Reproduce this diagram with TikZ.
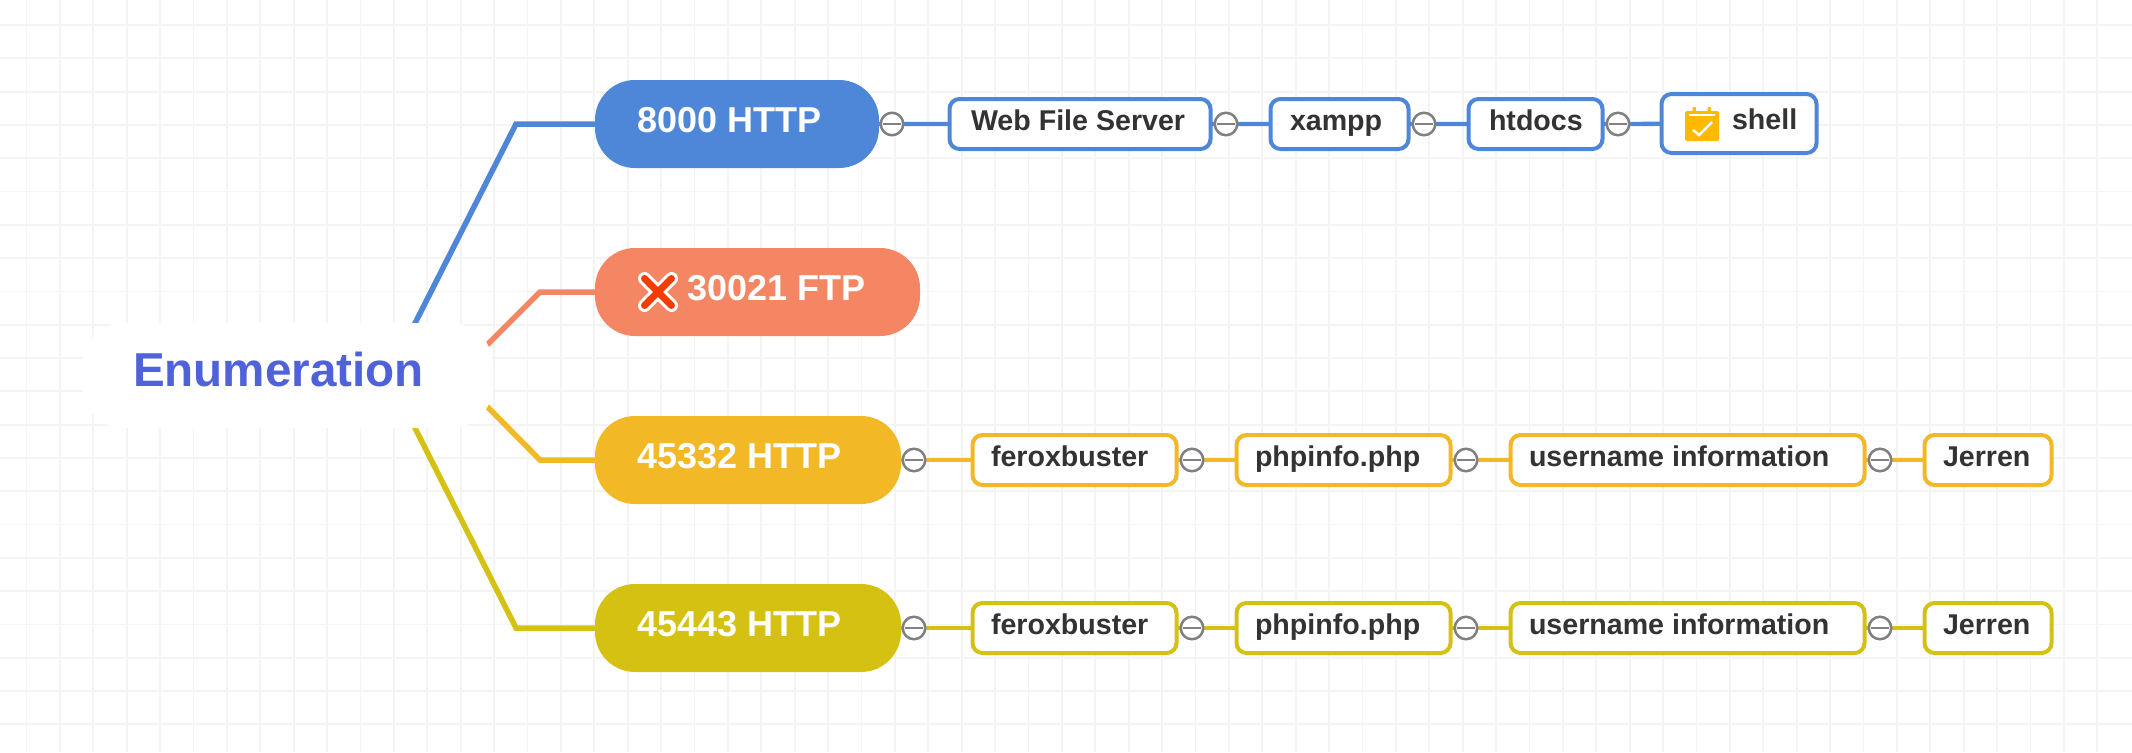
\documentclass[tikz,border=0pt]{standalone}
\usepackage{fontspec}
\setmainfont{Liberation Sans}
\usetikzlibrary{calc}
\definecolor{blueC}{HTML}{4E87D7}
\definecolor{orangeC}{HTML}{F58663}
\definecolor{amberC}{HTML}{F3B826}
\definecolor{oliveC}{HTML}{D4C111}
\definecolor{inkC}{HTML}{333333}
\definecolor{rootC}{HTML}{4F62DA}
\definecolor{gridC}{HTML}{F4F4F4}
\definecolor{markC}{HTML}{808080}
\definecolor{crossC}{HTML}{F23C00}
\definecolor{calC}{HTML}{FFB900}
\pgfdeclarelayer{gridlayer}
\pgfdeclarelayer{connlayer}
\pgfsetlayers{gridlayer,connlayer,main}
\newcommand{\lab}[3]{\makebox[#1pt][l]{\hspace*{#2pt}#3}}
\tikzset{
  pill/.style={fill=#1,rounded corners=40pt,anchor=west,inner sep=0pt,outer sep=0pt,minimum height=88pt,
    text=white,text height=26pt,text depth=10pt,font=\fontsize{36}{36}\selectfont\bfseries},
  tbox/.style={draw=#1,fill=white,line width=4pt,rounded corners=10pt,anchor=west,inner sep=0pt,outer sep=0pt,
    minimum height=50pt,text=inkC,text height=21pt,text depth=9pt,font=\fontsize{28.6}{29}\selectfont\bfseries},
  fold/.style={circle,draw=markC,fill=white,line width=2.5pt,minimum size=22.5pt,inner sep=0pt,outer sep=0pt,
    path picture={\draw[markC,line width=2pt] ($(path picture bounding box.center)+(-9,0)$) -- ($(path picture bounding box.center)+(9,0)$);}},
  conn/.style={draw=#1,line width=5.5pt,line join=miter},
  subconn/.style={draw=#1,line width=4.3pt},
  gridline/.style={draw=gridC,line width=1.8pt}
}
\begin{document}
\begin{tikzpicture}[x=1pt,y=-1pt]
\useasboundingbox (0,0) rectangle (2132,752);
\begin{pgfonlayer}{gridlayer}
\fill[white] (0,0) rectangle (2132,752);
\foreach \k in {0,...,62} \draw[gridline] ({26.5+33.4*\k},0) -- ({26.5+33.4*\k},752);
\foreach \k in {0,...,21} \draw[gridline] (0,{25+33.3*\k}) -- (2132,{25+33.3*\k});
\end{pgfonlayer}
% root
\node[fill=white,rounded corners=42pt,anchor=west,inner sep=0pt,outer sep=0pt,minimum height=105pt,text=rootC,
  text height=40pt,text depth=19pt,font=\fontsize{47.6}{48}\selectfont\bfseries] (root) at (82,375.5) {\lab{411}{51}{Enumeration}};
% main branches
\node[pill=blueC] (p1) at (595,124) {\lab{284}{42}{8000 HTTP}};
\node[pill=orangeC] (p2) at (595,292) {\lab{325}{92}{30021 FTP}};
\node[pill=amberC] (p3) at (595,460) {\lab{306}{42}{45332 HTTP}};
\node[pill=oliveC] (p4) at (595,628) {\lab{306}{42}{45443 HTTP}};
% cross icon
\draw[white,line width=13pt,line cap=round] (644.5,278.5) -- (671.5,305.5) (671.5,278.5) -- (644.5,305.5);
\draw[crossC,line width=7pt,line cap=round] (644.5,278.5) -- (671.5,305.5) (671.5,278.5) -- (644.5,305.5);
% row 1
\node[tbox=blueC] (a1) at (949.5,124) {\lab{261}{21.5}{Web File Server}};
\node[tbox=blueC] (a2) at (1270.5,124) {\lab{138}{19.5}{xampp}};
\node[tbox=blueC] (a3) at (1468.5,124) {\lab{134}{20.5}{htdocs}};
\node[tbox=blueC,minimum height=59pt] (a4) at (1661.5,123.5) {\lab{155}{70.5}{shell}};
\node[fold] (fa0) at (892,124) {};
\node[fold] (fa1) at (1226,124) {};
\node[fold] (fa2) at (1424,124) {};
\node[fold] (fa3) at (1618,124) {};
% calendar icon
\fill[calC,rounded corners=1.5pt] (1685,111) rectangle (1719,141);
\fill[calC,rounded corners=1pt] (1692.5,107) rectangle (1696,113) (1707.5,107) rectangle (1711,113);
\draw[white,line width=2pt] (1689,115) -- (1715,115);
\draw[white,line width=2.5pt] (1693,130) -- (1699,135) -- (1712,122);
% rows 3 and 4
\node[tbox=amberC] (b1) at (972.5,460) {\lab{204}{18.5}{feroxbuster}};
\node[tbox=amberC] (b2) at (1236.5,460) {\lab{214}{18.5}{phpinfo.php}};
\node[tbox=amberC] (b3) at (1510.5,460) {\lab{354}{18.5}{username information}};
\node[tbox=amberC] (b4) at (1924.5,460) {\lab{127}{18.5}{Jerren}};
\node[fold] (fb0) at (914,460) {};
\node[fold] (fb1) at (1192,460) {};
\node[fold] (fb2) at (1466,460) {};
\node[fold] (fb3) at (1880,460) {};
\node[tbox=oliveC] (c1) at (972.5,628) {\lab{204}{18.5}{feroxbuster}};
\node[tbox=oliveC] (c2) at (1236.5,628) {\lab{214}{18.5}{phpinfo.php}};
\node[tbox=oliveC] (c3) at (1510.5,628) {\lab{354}{18.5}{username information}};
\node[tbox=oliveC] (c4) at (1924.5,628) {\lab{127}{18.5}{Jerren}};
\node[fold] (fc0) at (914,628) {};
\node[fold] (fc1) at (1192,628) {};
\node[fold] (fc2) at (1466,628) {};
\node[fold] (fc3) at (1880,628) {};
\begin{pgfonlayer}{connlayer}
\coordinate (k1) at (516,124);
\coordinate (k2) at (540,292);
\coordinate (k3) at (540,460);
\coordinate (k4) at (516,628);
\coordinate (h1) at ($(root.center)+(101,0)$);
\coordinate (h2) at ($(root.center)+(169,0)$);
\draw[conn=blueC] (h1) -- (k1) -- (p1.west);
\draw[conn=orangeC] (h2) -- (k2) -- (p2.west);
\draw[conn=amberC] (h2) -- (k3) -- (p3.west);
\draw[conn=oliveC] (h1) -- (k4) -- (p4.west);
\draw[subconn=blueC] (p1.east) -- (fa0) -- (a1) -- (fa1) -- (a2) -- (fa2) -- (a3) -- (fa3) -- (a4);
\draw[subconn=amberC] (p3.east) -- (fb0) -- (b1) -- (fb1) -- (b2) -- (fb2) -- (b3) -- (fb3) -- (b4);
\draw[subconn=oliveC] (p4.east) -- (fc0) -- (c1) -- (fc1) -- (c2) -- (fc2) -- (c3) -- (fc3) -- (c4);
\end{pgfonlayer}
\end{tikzpicture}
\end{document}
